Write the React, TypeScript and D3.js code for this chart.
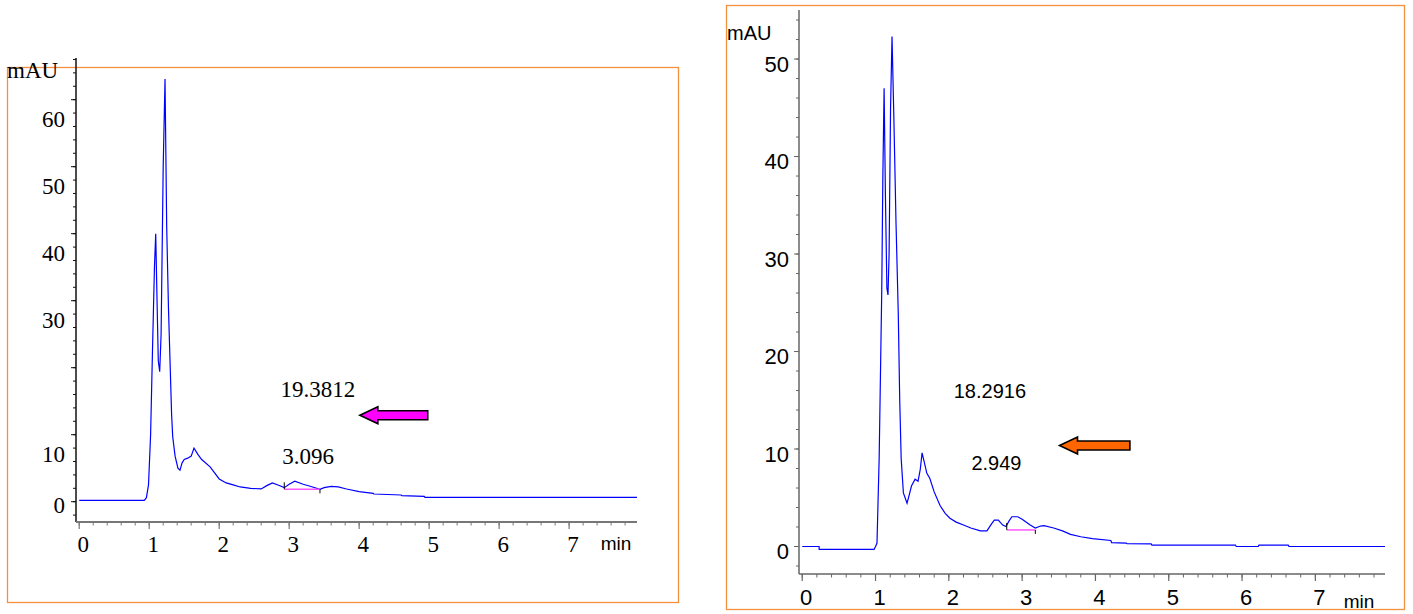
import React from "react";
import * as d3 from "d3";

// ---------- data ----------
const leftTimes = [
  0, 0.93, 0.96, 0.99, 1.02, 1.05, 1.075, 1.093, 1.11, 1.13, 1.15, 1.17, 1.2, 1.226, 1.25, 1.275,
  1.297, 1.32, 1.336, 1.37, 1.41, 1.44, 1.47, 1.5, 1.55, 1.6, 1.64, 1.7, 1.75, 1.87, 2.0, 2.1, 2.2,
  2.3, 2.45, 2.6, 2.68, 2.76, 2.84, 2.93, 3.0, 3.08, 3.2, 3.3, 3.44, 3.5, 3.6, 3.7, 3.82, 4.0, 4.2,
  4.21, 4.6, 4.61, 4.93, 4.94, 7.97,
];
const leftMAU = [
  0.2, 0.2, 0.6, 2.5, 10, 24, 35, 40, 31, 21, 19.4, 25, 50, 63.1, 41, 29,
  21.2, 13, 9.7, 6.8, 5.0, 4.7, 5.8, 6.3, 6.5, 6.8, 8.0, 7.0, 6.3, 5.2, 3.4, 2.8, 2.5,
  2.2, 2.0, 1.9, 2.4, 2.8, 2.5, 2.1, 2.6, 3.05, 2.6, 2.3, 1.85, 2.1, 2.3, 2.2, 1.9, 1.5, 1.25,
  1.15, 1.0, 0.9, 0.8, 0.65, 0.65,
];

const rightTimes = [
  0, 0.23, 0.231, 0.98, 1.0, 1.02, 1.05, 1.085, 1.1, 1.117, 1.135, 1.155, 1.17, 1.185, 1.205, 1.225,
  1.25, 1.28, 1.31, 1.33, 1.35, 1.38, 1.43, 1.46, 1.49, 1.54, 1.58, 1.61, 1.635, 1.66, 1.7, 1.74,
  1.8, 1.88, 1.95, 2.015, 2.1, 2.2, 2.3, 2.43, 2.52, 2.58, 2.62, 2.675, 2.735, 2.78, 2.82, 2.86,
  2.94, 3.0, 3.11, 3.18, 3.25, 3.3, 3.43, 3.55, 3.66, 3.8, 3.96, 4.21, 4.22, 4.42, 4.43, 4.76,
  4.77, 5.91, 5.92, 6.22, 6.23, 6.63, 6.64, 7.95,
];
const rightMAU = [
  0, 0, -0.3, -0.3, 0.0, 0.35, 9.2, 26.3, 38, 47.0, 36, 26.5, 25.8, 30, 45, 52.3,
  44, 33, 24, 15, 9, 5.5, 4.45, 5.3, 6.2, 6.9, 6.7, 7.9, 9.6, 8.8, 7.5, 7.0,
  5.6, 4.2, 3.4, 2.9, 2.5, 2.2, 1.9, 1.6, 1.6, 2.3, 2.7, 2.7, 2.2, 2.05, 2.6, 3.05,
  3.05, 2.8, 2.2, 1.9, 2.1, 2.15, 1.9, 1.6, 1.25, 1.0, 0.8, 0.62, 0.4, 0.35, 0.3, 0.28,
  0.15, 0.15, 0.0, 0.0, 0.14, 0.14, 0.0, 0.0,
];

const xTickLabels = [0, 1, 2, 3, 4, 5, 6, 7];
const leftYLabels = [0, 10, 30, 40, 50, 60];
const rightYLabels = [0, 10, 20, 30, 40, 50];

// peak annotations
const leftAreaLabel = { text: "19.3812", t: 3.41, v: 16.8 };
const leftRtLabel = { text: "3.096", t: 3.27, v: 6.8 };
const rightAreaLabel = { text: "18.2916", t: 2.56, v: 15.9 };
const rightRtLabel = { text: "2.949", t: 2.65, v: 8.6 };
// integration baseline [start, end, level]
const leftBaseline = [2.93, 3.44, 1.85];
const rightBaseline = [2.79, 3.18, 1.7];
// arrows [tipTime, tailTime, mAU]
const leftArrow = [4.01, 4.98, 12.9];
const rightArrow = [3.51, 4.47, 10.36];

// ---------- panel ----------
type PanelProps = {
  frame: [number, number, number, number];
  xRange: [number, number];
  xDomain: [number, number];
  yRange: [number, number];
  yDomain: [number, number];
  times: number[];
  values: number[];
  yLabels: number[];
  yLabelDy: (v: number) => number;
  yLabelX: number;
  yMajorMax: number;
  yMinorMax: number;
  font: string;
  fontSize: number;
  yAxisColor: string;
  xAxisColor: string;
  xAxisWidth: number;
  xLabelY: number;
  minPos: [number, number];
  mauPos: [number, number];
  mauSize: number;
  annSize: number;
  area: { text: string; t: number; v: number };
  rt: { text: string; t: number; v: number };
  baseline: number[];
  arrow: number[];
  arrowFill: string;
  yTop: number;
};

function Panel(p: PanelProps) {
  const x = d3.scaleLinear().domain(p.xDomain).range(p.xRange);
  const y = d3.scaleLinear().domain(p.yDomain).range(p.yRange);
  const pts: [number, number][] = p.times.map((t, i) => [t, p.values[i]]);
  const line = d3
    .line<[number, number]>()
    .x((d) => x(d[0]))
    .y((d) => y(d[1]));
  const x0 = p.xRange[0];
  const yb = p.yRange[0];
  const minorX = d3.range(0, 7.81, 0.2);
  const majorY = d3.range(0, p.yMajorMax + 0.1, 10);
  const minorY = d3.range(-2, p.yMinorMax + 0.1, 2);

  const [tipT, tailT, av] = p.arrow;
  const xt = x(tipT);
  const xe = x(tailT);
  const yc = y(av);
  const hl = 18,
    hh = 8.5,
    sh = 4.5;
  const arrowPts = [
    [xt, yc],
    [xt + hl, yc - hh],
    [xt + hl, yc - sh],
    [xe, yc - sh],
    [xe, yc + sh],
    [xt + hl, yc + sh],
    [xt + hl, yc + hh],
  ]
    .map((q) => q.join(","))
    .join(" ");

  const [bs, be, bl] = p.baseline;
  const [fx, fy, fw, fh] = p.frame;

  return (
    <g>
      <rect x={fx} y={fy} width={fw} height={fh} fill="none" stroke="#F5913E" strokeWidth={1.3} />
      {/* y axis */}
      <line x1={x0} x2={x0} y1={p.yTop} y2={yb} stroke={p.yAxisColor} strokeWidth={1.5} />
      {minorY.map((v) => (
        <line key={"ym" + v} x1={x0 - 3} x2={x0} y1={y(v)} y2={y(v)} stroke={p.yAxisColor} strokeWidth={1} />
      ))}
      {majorY.map((v) => (
        <line key={"yM" + v} x1={x0 - 5} x2={x0} y1={y(v)} y2={y(v)} stroke={p.yAxisColor} strokeWidth={1} />
      ))}
      {p.yLabels.map((v) => (
        <text
          key={"yl" + v}
          x={p.yLabelX}
          y={y(v) + p.yLabelDy(v)}
          textAnchor="end"
          dominantBaseline="central"
          fontFamily={p.font}
          fontSize={p.fontSize}
          fill="#000"
        >
          {v}
        </text>
      ))}
      {/* x axis */}
      <line x1={x0} x2={p.xRange[1]} y1={yb} y2={yb} stroke={p.xAxisColor} strokeWidth={p.xAxisWidth} />
      {minorX.map((t) => (
        <line key={"xm" + t} x1={x(t)} x2={x(t)} y1={yb} y2={yb + 3.5} stroke={p.xAxisColor} strokeWidth={1} />
      ))}
      {xTickLabels.map((t) => (
        <line key={"xM" + t} x1={x(t)} x2={x(t)} y1={yb} y2={yb + 7} stroke={p.xAxisColor} strokeWidth={1.2} />
      ))}
      {xTickLabels.map((t) => (
        <text
          key={"xl" + t}
          x={x(t) + 4}
          y={p.xLabelY}
          textAnchor="middle"
          dominantBaseline="central"
          fontFamily={p.font}
          fontSize={p.fontSize}
          fill="#000"
        >
          {t}
        </text>
      ))}
      <text
        x={p.minPos[0]}
        y={p.minPos[1]}
        textAnchor="middle"
        dominantBaseline="central"
        fontFamily="'Liberation Sans', Arial, sans-serif"
        fontSize={19}
        fill="#000"
      >
        min
      </text>
      <text
        x={p.mauPos[0]}
        y={p.mauPos[1]}
        dominantBaseline="central"
        fontFamily={p.font}
        fontSize={p.mauSize}
        fill="#000"
      >
        mAU
      </text>
      {/* signal */}
      <path d={line(pts) || ""} fill="none" stroke="#0000FF" strokeWidth={1.2} />
      {/* integration baseline */}
      <line x1={x(bs)} x2={x(be)} y1={y(bl)} y2={y(bl)} stroke="#FF55FF" strokeWidth={1.5} />
      <line x1={x(bs)} x2={x(bs)} y1={y(bl)} y2={y(bl) - 7} stroke="#000" strokeWidth={1} />
      <line x1={x(be)} x2={x(be)} y1={y(bl)} y2={y(bl) + 4} stroke="#000" strokeWidth={1} />
      {/* annotations */}
      <text
        x={x(p.area.t)}
        y={y(p.area.v)}
        textAnchor="middle"
        dominantBaseline="central"
        fontFamily={p.font}
        fontSize={p.annSize}
        fill="#000"
      >
        {p.area.text}
      </text>
      <text
        x={x(p.rt.t)}
        y={y(p.rt.v)}
        textAnchor="middle"
        dominantBaseline="central"
        fontFamily={p.font}
        fontSize={p.annSize}
        fill="#000"
      >
        {p.rt.text}
      </text>
      <polygon points={arrowPts} fill={p.arrowFill} stroke="#000" strokeWidth={1.6} strokeLinejoin="miter" />
    </g>
  );
}

export default function App() {
  const serif = "'Liberation Serif', 'Times New Roman', serif";
  const sans = "'Liberation Sans', Arial, sans-serif";
  return (
    <svg
      width={1413}
      height={614}
      style={{ position: "absolute", left: 0, top: 0, background: "#fff" }}
    >
      <rect x={0} y={0} width={1413} height={614} fill="#fff" />
      <Panel
        frame={[7.5, 67.5, 671, 535]}
        xRange={[76, 637]}
        xDomain={[-0.046, 7.97]}
        yRange={[522, 58]}
        yDomain={[-3.03, 66.22]}
        yTop={58}
        times={leftTimes}
        values={leftMAU}
        yLabels={leftYLabels}
        yLabelDy={(v) => (v === 0 ? 4 : 20)}
        yLabelX={65}
        yMajorMax={60}
        yMinorMax={66}
        font={serif}
        fontSize={23}
        yAxisColor="#111"
        xAxisColor="#777"
        xAxisWidth={2}
        xLabelY={544}
        minPos={[616, 543]}
        mauPos={[7, 70]}
        mauSize={23}
        annSize={23}
        area={leftAreaLabel}
        rt={leftRtLabel}
        baseline={leftBaseline}
        arrow={leftArrow}
        arrowFill="#FF00FF"
      />
      <Panel
        frame={[726.5, 5.5, 678, 604]}
        xRange={[799, 1385]}
        xDomain={[-0.044, 7.95]}
        yRange={[574, 10]}
        yDomain={[-2.82, 55.03]}
        yTop={10}
        times={rightTimes}
        values={rightMAU}
        yLabels={rightYLabels}
        yLabelDy={() => 5}
        yLabelX={789}
        yMajorMax={50}
        yMinorMax={54}
        font={sans}
        fontSize={22}
        yAxisColor="#666"
        xAxisColor="#666"
        xAxisWidth={1.6}
        xLabelY={597}
        minPos={[1359, 601]}
        mauPos={[727, 33]}
        mauSize={20}
        annSize={20}
        area={rightAreaLabel}
        rt={rightRtLabel}
        baseline={rightBaseline}
        arrow={rightArrow}
        arrowFill="#FF6600"
      />
    </svg>
  );
}
